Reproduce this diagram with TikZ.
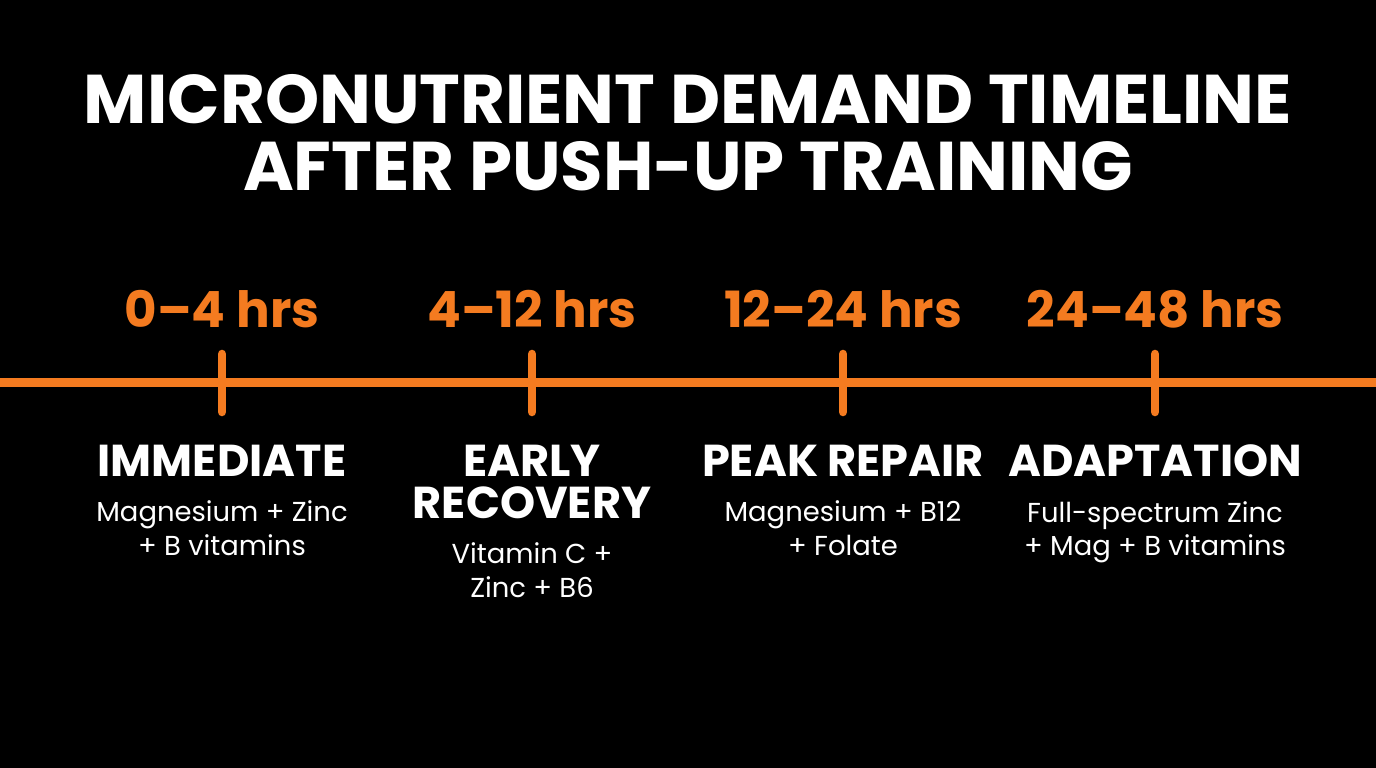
\documentclass[tikz,border=0pt]{standalone}
\usepackage{fontspec}
\setmainfont{Poppins}
\usetikzlibrary{positioning}

\definecolor{pushorange}{HTML}{F47B20}

\begin{document}
\begin{tikzpicture}[x=0.01cm,y=-0.01cm,node distance=0.23cm,
    title/.style={text=white,font=\bfseries\fontsize{19.6}{19}\selectfont,align=center,inner sep=0pt},
    hours/.style={text=pushorange,font=\bfseries\fontsize{14.2}{14}\selectfont,anchor=base,inner sep=0pt},
    phase/.style={text=white,font=\bfseries\fontsize{12.7}{12}\selectfont,align=center,anchor=north,inner sep=0pt},
    nutrients/.style={text=white,font=\fontsize{7.8}{9.6}\selectfont,align=center,inner sep=0pt},
    axis/.style={pushorange,line width=0.09cm},
    tick/.style={pushorange,line width=0.085cm,line cap=round}]
        % \draw[help lines] (0,0) grid (1376,768);
      \fill[black] (0,0) rectangle (1376,768);
      \useasboundingbox (0,0) rectangle (1376,768);

      \node[title] (title) at (688,133) {MICRONUTRIENT DEMAND TIMELINE\\AFTER PUSH-UP TRAINING};

      \coordinate (start) at (0,383);
      \coordinate (end)   at (1376,383);
      \coordinate (t_1)   at (222,383);
      \coordinate (t_2)   at (532,383);
      \coordinate (t_3)   at (843,383);
      \coordinate (t_4)   at (1155,383);

      \draw[axis] (start) -- (end);
      \draw[tick] ([yshift=0.29cm]t_1) -- ([yshift=-0.29cm]t_1);
      \draw[tick] ([yshift=0.29cm]t_2) -- ([yshift=-0.29cm]t_2);
      \draw[tick] ([yshift=0.29cm]t_3) -- ([yshift=-0.29cm]t_3);
      \draw[tick] ([yshift=0.29cm]t_4) -- ([yshift=-0.29cm]t_4);

      \node[hours] (hrs_1) at (222,328)  {0–4 hrs};
      \node[hours] (hrs_2) at (532,328)  {4–12 hrs};
      \node[hours] (hrs_3) at (843,328)  {12–24 hrs};
      \node[hours] (hrs_4) at (1155,328) {24–48 hrs};

      \node[phase] (ph_1) at (222,444)  {IMMEDIATE};
      \node[phase] (ph_2) at (532,444)  {EARLY\\RECOVERY};
      \node[phase] (ph_3) at (843,444)  {PEAK REPAIR};
      \node[phase] (ph_4) at (1155,444) {ADAPTATION};

      \node[nutrients, below=of ph_1] (nu_1) {Magnesium + Zinc\\+ B vitamins};
      \node[nutrients, below=of ph_2] (nu_2) {Vitamin C +\\Zinc + B6};
      \node[nutrients, below=of ph_3] (nu_3) {Magnesium + B12\\+ Folate};
      \node[nutrients, below=of ph_4] (nu_4) {Full-spectrum Zinc\\+ Mag + B vitamins};
    \end{tikzpicture}
\end{document}
